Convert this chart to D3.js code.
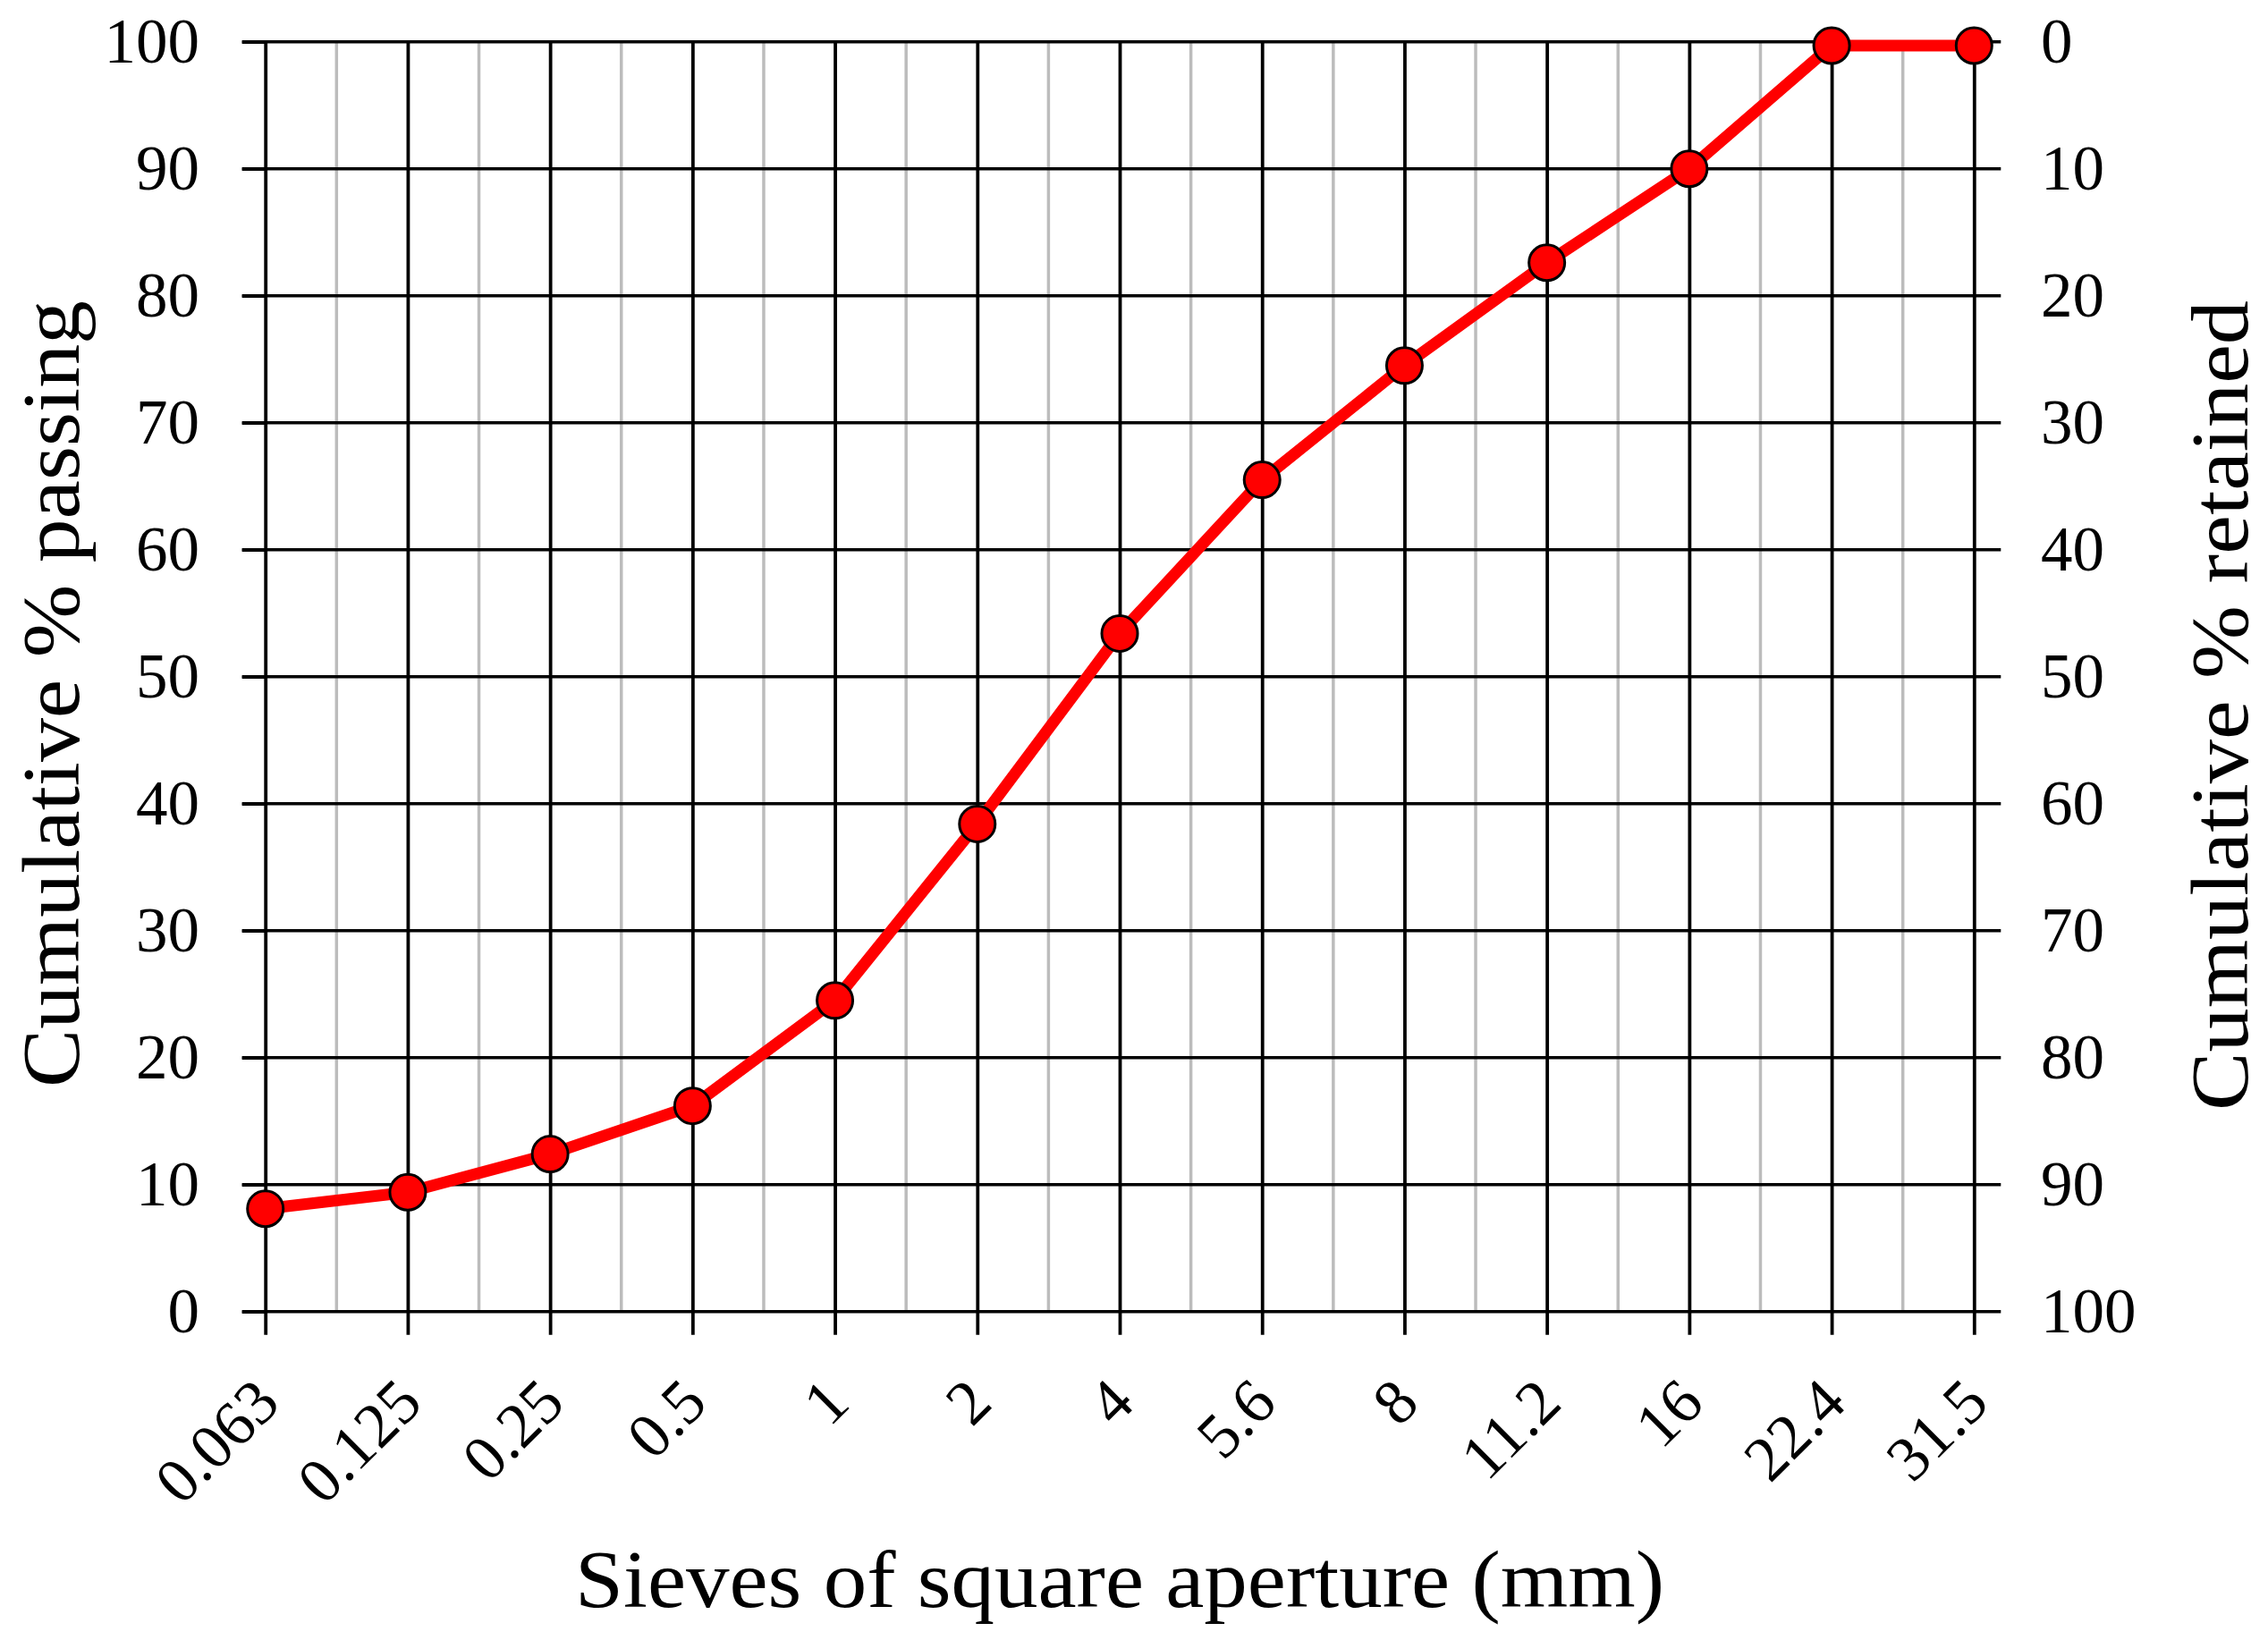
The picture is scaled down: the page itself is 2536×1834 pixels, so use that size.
<!DOCTYPE html>
<html>
<head>
<meta charset="utf-8">
<script src="https://cdn.jsdelivr.net/npm/d3@7"></script>
<style>
  html, body { margin: 0; padding: 0; background: #fff; }
  svg { display: block; }
  text { font-family: "Liberation Serif", "Times New Roman", serif; fill: #000; }
</style>
</head>
<body>
<svg id="chart" width="2536" height="1834"></svg>
<script>
// ---- data ----
const sieves = ["0.063", "0.125", "0.25", "0.5", "1", "2", "4", "5.6", "8", "11.2", "16", "22.4", "31.5"];
const passing = [8.1, 9.4, 12.4, 16.2, 24.5, 38.4, 53.4, 65.5, 74.5, 82.6, 90.0, 99.7, 99.7];
const leftTicks = [0, 10, 20, 30, 40, 50, 60, 70, 80, 90, 100];
const rightTickLabels = ["100", "90", "80", "70", "60", "50", "40", "30", "20", "10", "0"];
const xTitle = "Sieves of square aperture (mm)";
const yLeftTitle = "Cumulative % passing";
const yRightTitle = "Cumulative % retained";

// ---- layout ----
const W = 2536, H = 1834;
const x0 = 296.7, x1 = 2207.3, yTop = 46.7, yBot = 1466.7;
const tickLen = 26;

const svg = d3.select("#chart");
svg.append("rect").attr("width", W).attr("height", H).attr("fill", "#fff");

const x = d3.scalePoint().domain(sieves).range([x0, x1]);
const y = d3.scaleLinear().domain([0, 100]).range([yBot, yTop]);
const step = x.step();

// minor gray vertical lines at midpoints
const mids = sieves.slice(0, -1).map(s => x(s) + step / 2);
svg.append("g").selectAll("line").data(mids).join("line")
  .attr("x1", d => d).attr("x2", d => d)
  .attr("y1", yTop).attr("y2", yBot)
  .attr("stroke", "#bcbcbc").attr("stroke-width", 3.5);

// left axis ticks
const gLeft = svg.append("g").attr("transform", `translate(${x0},0)`)
  .call(d3.axisLeft(y).tickValues(leftTicks).tickSize(tickLen).tickPadding(0).tickFormat(d3.format("d")));
gLeft.select(".domain").remove();
gLeft.selectAll(".tick line").attr("stroke", "#000").attr("stroke-width", 3.6);
gLeft.selectAll(".tick text").remove();
// horizontal gridlines across plot and out the right side as ticks
svg.append("g").selectAll("line").data(leftTicks).join("line")
  .attr("x1", x0 - tickLen).attr("x2", x1 + 30)
  .attr("y1", d => y(d)).attr("y2", d => y(d))
  .attr("stroke", "#000").attr("stroke-width", 3.6);

// left tick labels
svg.append("g").selectAll("text").data(leftTicks).join("text")
  .attr("x", 223).attr("y", d => y(d) + 23)
  .attr("text-anchor", "end").attr("font-size", 71)
  .text(d => d);

// right tick labels (retained)
svg.append("g").selectAll("text").data(leftTicks).join("text")
  .attr("x", 2282).attr("y", d => y(d) + 23)
  .attr("text-anchor", "start").attr("font-size", 71)
  .text((d, i) => rightTickLabels[i]);

// bottom axis: major vertical lines extending below as ticks
const gBottom = svg.append("g").attr("transform", `translate(0,${yBot})`)
  .call(d3.axisBottom(x).tickSize(tickLen));
gBottom.select(".domain").remove();
gBottom.selectAll(".tick text").remove();
gBottom.selectAll(".tick line").attr("stroke", "#000").attr("stroke-width", 3.8)
  .attr("y1", -(yBot - yTop));

// x tick labels rotated -45
svg.append("g").selectAll("text").data(sieves).join("text")
  .attr("text-anchor", "end").attr("font-size", 71)
  .attr("transform", d => `translate(${x(d) + 19},1572) rotate(-45)`)
  .text(d => d);

// series line
const line = d3.line().x((d, i) => x(sieves[i])).y(d => y(d));
svg.append("path").datum(passing)
  .attr("d", line).attr("fill", "none")
  .attr("stroke", "#ff0000").attr("stroke-width", 13).attr("stroke-linejoin", "round");

// markers
svg.append("g").selectAll("circle").data(passing).join("circle")
  .attr("cx", (d, i) => x(sieves[i])).attr("cy", d => y(d))
  .attr("r", 20).attr("fill", "#ff0000").attr("stroke", "#000").attr("stroke-width", 3);

// axis titles
svg.append("text").attr("x", (x0 + x1) / 2).attr("y", 1797)
  .attr("text-anchor", "middle").attr("font-size", 90)
  .attr("textLength", 1218).attr("lengthAdjust", "spacingAndGlyphs")
  .text(xTitle);

svg.append("text").attr("transform", `translate(88,776) rotate(-90)`)
  .attr("text-anchor", "middle").attr("font-size", 90)
  .attr("textLength", 880).attr("lengthAdjust", "spacingAndGlyphs")
  .text(yLeftTitle);

svg.append("text").attr("transform", `translate(2513,789) rotate(-90)`)
  .attr("text-anchor", "middle").attr("font-size", 90)
  .attr("textLength", 906).attr("lengthAdjust", "spacingAndGlyphs")
  .text(yRightTitle);
</script>
</body>
</html>
